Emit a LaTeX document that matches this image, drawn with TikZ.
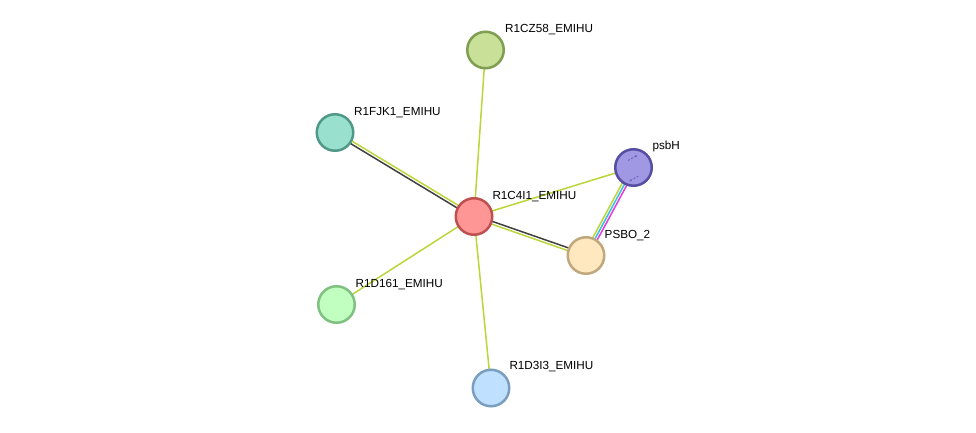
\documentclass[tikz,border=0pt]{standalone}
\usepackage{fontspec}
\setmainfont{Liberation Sans}
\usetikzlibrary{calc,backgrounds}
\definecolor{edgey}{RGB}{188,214,58}
\definecolor{edged}{RGB}{64,64,64}
\definecolor{edgec}{RGB}{60,190,225}
\definecolor{edgem}{RGB}{225,60,225}
\definecolor{czf}{RGB}{200,224,152}\definecolor{czd}{RGB}{128,158,82}
\definecolor{fjf}{RGB}{154,224,206}\definecolor{fjd}{RGB}{80,152,136}
\definecolor{c4f}{RGB}{255,150,150}\definecolor{c4d}{RGB}{190,80,80}
\definecolor{phf}{RGB}{160,152,226}\definecolor{phd}{RGB}{86,78,160}
\definecolor{pof}{RGB}{255,232,192}\definecolor{pod}{RGB}{192,168,124}
\definecolor{d1f}{RGB}{192,255,192}\definecolor{d1d}{RGB}{128,192,128}
\definecolor{d3f}{RGB}{192,224,255}\definecolor{d3d}{RGB}{124,158,190}
\definecolor{markcol}{RGB}{110,90,190}
\tikzset{
  prot/.style={circle,minimum size=36.5pt,inner sep=0pt,line width=2.5pt},
  lbl/.style={anchor=base west,inner sep=0pt,font=\fontsize{11.7}{13}\selectfont,text=black},
  yl/.style={draw=edgey,line width=1.5pt},
  dk/.style={draw=edged,line width=1.5pt},
  cy/.style={draw=edgec,line width=1.5pt},
  mg/.style={draw=edgem,line width=1.5pt},
  strmark/.style={draw=markcol,line width=0.8pt,dash pattern=on 2pt off 1.5pt},
}
\begin{document}
\begin{tikzpicture}[x=1pt,y=-1pt]
\useasboundingbox (0,0) rectangle (976,433);
% nodes
\node[prot,fill=czf,draw=czd] (cz) at (485.5,50) {};
\node[prot,fill=fjf,draw=fjd] (fj) at (335,132.5) {};
\node[prot,fill=c4f,draw=c4d] (c4) at (474,216.5) {};
\node[prot,fill=phf,draw=phd] (ph) at (633.5,167.5) {};
\node[prot,fill=pof,draw=pod] (po) at (586,255.5) {};
\node[prot,fill=d1f,draw=d1d] (d1) at (336.5,304.5) {};
\node[prot,fill=d3f,draw=d3d] (d3) at (491,388) {};
% psbH structure marks
\draw[strmark] ($(ph)+(-5.5,-7)$) -- ($(ph)+(2.5,-11.5)$);
\draw[strmark] ($(ph)+(-3,13)$) -- ($(ph)+(5,8.5)$);
\fill[markcol] ($(ph)+(2.5,-11.5)$) circle (1pt) ($(ph)+(-3,13)$) circle (1pt);
% labels
\node[lbl] (lcz) at (505,32.7) {R1CZ58\_EMIHU};
\node[lbl] (lfj) at (354,115) {R1FJK1\_EMIHU};
\node[lbl] (lc4) at (492.3,199.3) {R1C4I1\_EMIHU};
\node[lbl] (lph) at (652.3,149.5) {psbH};
\node[lbl] (lpo) at (604.5,238) {PSBO\_2};
\node[lbl] (ld1) at (355.5,287.3) {R1D161\_EMIHU};
\node[lbl] (ld3) at (509.3,369.3) {R1D3I3\_EMIHU};
% edges
\begin{scope}[on background layer]
\fill[white] (0,0) rectangle (976,433);
\draw[yl] (c4.center) -- (cz.center);
\draw[yl] (c4.center) -- (ph.center);
\draw[yl] (c4.center) -- (d1.center);
\draw[yl] (c4.center) -- (d3.center);
\draw[yl] ($(c4.center)!1.4pt!-90:(fj.center)$) -- ($(fj.center)!1.4pt!90:(c4.center)$);
\draw[dk] ($(c4.center)!1.4pt!90:(fj.center)$) -- ($(fj.center)!1.4pt!-90:(c4.center)$);
\draw[dk] ($(c4.center)!1.4pt!90:(po.center)$) -- ($(po.center)!1.4pt!-90:(c4.center)$);
\draw[yl] ($(c4.center)!1.4pt!-90:(po.center)$) -- ($(po.center)!1.4pt!90:(c4.center)$);
\draw[yl] ($(po.center)!2.5pt!90:(ph.center)$) -- ($(ph.center)!2.5pt!-90:(po.center)$);
\draw[cy] (po.center) -- (ph.center);
\draw[mg] ($(po.center)!2.5pt!-90:(ph.center)$) -- ($(ph.center)!2.5pt!90:(po.center)$);
\end{scope}
\end{tikzpicture}
\end{document}
